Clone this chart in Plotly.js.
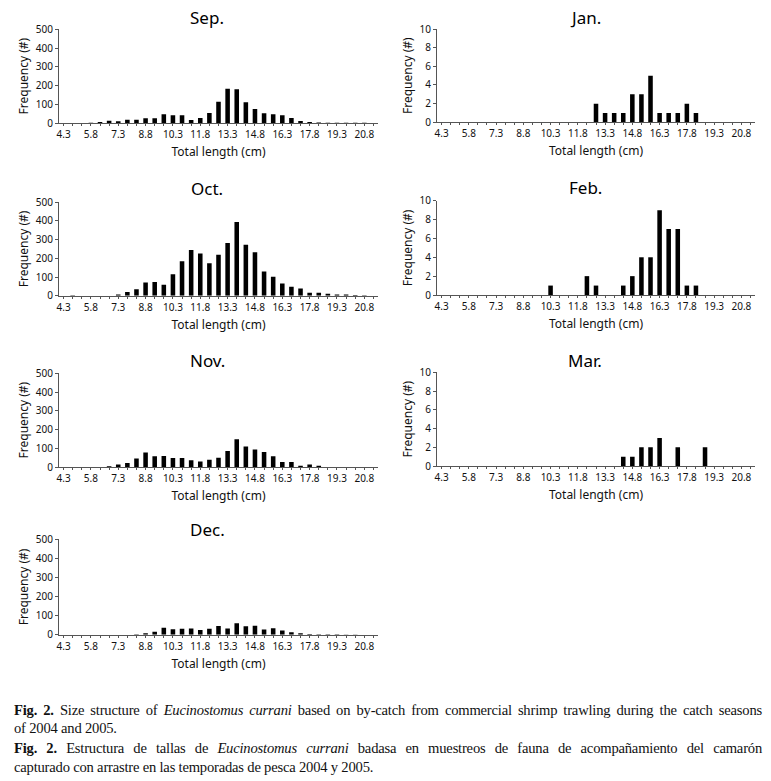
<!DOCTYPE html>
<html>
<head>
<meta charset="utf-8">
<script src="https://cdn.plot.ly/plotly-3.0.1.min.js"></script>
<style>
  html, body { margin: 0; padding: 0; background: #ffffff; }
  #wrap { position: relative; width: 771px; height: 781px; overflow: hidden; }
  #chart { position: absolute; left: 0; top: 0; width: 771px; height: 781px; }
  .cap { position: absolute; left: 14px; width: 748px; font-family: "Liberation Serif", "Times New Roman", serif;
         font-size: 14.6px; color: #111; white-space: nowrap; line-height: 16px; letter-spacing: -0.2px; }
  .just { text-align: justify; text-align-last: justify; }
</style>
</head>
<body>
<div id="wrap">
  <div id="chart"></div>
  <div class="cap just" style="top:702px;"><b>Fig. 2.</b> Size structure of <i>Eucinostomus currani</i> based on by-catch from commercial shrimp trawling during the catch seasons</div>
  <div class="cap" style="top:720px;">of 2004 and 2005.</div>
  <div class="cap just" style="top:740px;"><b>Fig. 2.</b> Estructura de tallas de <i>Eucinostomus currani</i> badasa en muestreos de fauna de acompañamiento del camarón</div>
  <div class="cap" style="top:759px;">capturado con arrastre en las temporadas de pesca 2004 y 2005.</div>
</div>
<script>
// Size classes (total length, cm)
const categories = ['4.3','4.8','5.3','5.8','6.3','6.8','7.3','7.8','8.3','8.8','9.3','9.8','10.3','10.8','11.3','11.8',
  '12.3','12.8','13.3','13.8','14.3','14.8','15.3','15.8','16.3','16.8','17.3','17.8','18.3','18.8','19.3','19.8','20.3','20.8','21.3'];
const tickLabels = ['4.3','5.8','7.3','8.8','10.3','11.8','13.3','14.8','16.3','17.8','19.3','20.8'];

// Frequencies per month
const sep = [0,0,0,1,5,12,9,18,18,25,25,47,41,41,16,27,54,113,183,180,111,75,52,47,41,27,11,5,3,2,2,1,2,1,0];
const oct = [0,2,0,0,0,0,7,20,34,70,73,59,115,185,244,226,174,219,282,395,273,233,129,102,65,48,38,16,16,11,7,7,4,2,0];
const nov = [0,0,0,0,0,4,14,21,45,77,57,59,48,48,36,30,39,50,86,148,109,93,80,57,27,27,7,14,7,0,0,0,0,0,0];
const dec = [0,0,0,0,0,0,0,0,3,8,15,36,28,31,33,25,31,45,33,60,44,47,27,34,22,13,8,4,2,3,2,1,1,0,0];
const jan = [0,0,0,0,0,0,0,0,0,0,0,0,0,0,0,0,0,2,1,1,1,3,3,5,1,1,1,2,1,0,0,0,0,0,0];
const feb = [0,0,0,0,0,0,0,0,0,0,0,0,1,0,0,0,2,1,0,0,1,2,4,4,9,7,7,1,1,0,0,0,0,0,0];
const mar = [0,0,0,0,0,0,0,0,0,0,0,0,0,0,0,0,0,0,0,0,1,1,2,2,3,0,2,0,0,2,0,0,0,0,0];

const months = ['Sep.','Oct.','Nov.','Dec.','Jan.','Feb.','Mar.'];
const series = [sep, oct, nov, dec, jan, feb, mar];
const yMax = [500, 500, 500, 500, 10, 10, 10];
const yStep = [100, 100, 100, 100, 2, 2, 2];

const W = 771, H = 781;
// pixel boxes: [left, right, top, bottom]
const boxes = [
  [59, 378, 29.3, 123],
  [59, 378, 202.3, 295.7],
  [59, 378, 373.3, 467],
  [59, 378, 539.3, 634.7],
  [437, 755, 29, 122.3],
  [437, 755, 200.7, 295],
  [437, 755, 372.3, 466]
];
const titleX = [207, 207, 207, 207, 585, 585, 585];
const titleY = [17, 188, 360, 529, 17, 187, 360];

const font = 'Noto Sans, Open Sans, sans-serif';
const data = [];
const layout = {
  width: W, height: H,
  margin: {l: 0, r: 0, t: 0, b: 0},
  paper_bgcolor: '#ffffff', plot_bgcolor: '#ffffff',
  showlegend: false,
  bargap: 0.5,
  font: {family: font, color: '#000', size: 10},
  annotations: []
};

const tickText = categories.map(c => tickLabels.includes(c) ? c : '');

series.forEach((vals, i) => {
  const n = i + 1;
  const xa = 'x' + (n === 1 ? '' : n);
  const ya = 'y' + (n === 1 ? '' : n);
  data.push({
    type: 'bar', x: categories, y: vals, xaxis: xa, yaxis: ya,
    marker: {color: '#000000', line: {width: 0}}, hoverinfo: 'x+y'
  });
  const b = boxes[i];
  const xk = 'xaxis' + (n === 1 ? '' : n);
  const yk = 'yaxis' + (n === 1 ? '' : n);
  layout[xk] = {
    domain: [b[0] / W, b[1] / W], anchor: ya,
    type: 'category', categoryorder: 'array', categoryarray: categories,
    tickmode: 'array', tickvals: categories, ticktext: tickText,
    ticks: 'outside', ticklen: 2, tickcolor: '#555', tickwidth: 1,
    showline: true, linecolor: '#555', linewidth: 1,
    showgrid: false, zeroline: false, fixedrange: true,
    tickfont: {family: font, size: 10, color: '#111'},
    tickangle: 0,
    title: {text: 'Total length (cm)', font: {family: font, size: 12, color: '#111'}, standoff: 7}
  };
  layout[yk] = {
    domain: [1 - b[3] / H, 1 - b[2] / H], anchor: xa,
    range: [0, yMax[i]], dtick: yStep[i], tick0: 0,
    ticks: 'outside', ticklen: 3, tickcolor: '#555', tickwidth: 1,
    showline: true, linecolor: '#555', linewidth: 1,
    showgrid: false, zeroline: false, fixedrange: true,
    tickfont: {family: font, size: 10, color: '#111'},
    title: {text: 'Frequency (#)', font: {family: font, size: 12, color: '#111'}, standoff: 4}
  };
  layout.annotations.push({
    text: months[i], xref: 'paper', yref: 'paper',
    x: titleX[i] / W, y: 1 - titleY[i] / H, xanchor: 'center', yanchor: 'middle',
    showarrow: false, font: {family: font, size: 17, color: '#000'}
  });
});

Plotly.newPlot('chart', data, layout, {displayModeBar: false, staticPlot: true});
</script>
</body>
</html>
